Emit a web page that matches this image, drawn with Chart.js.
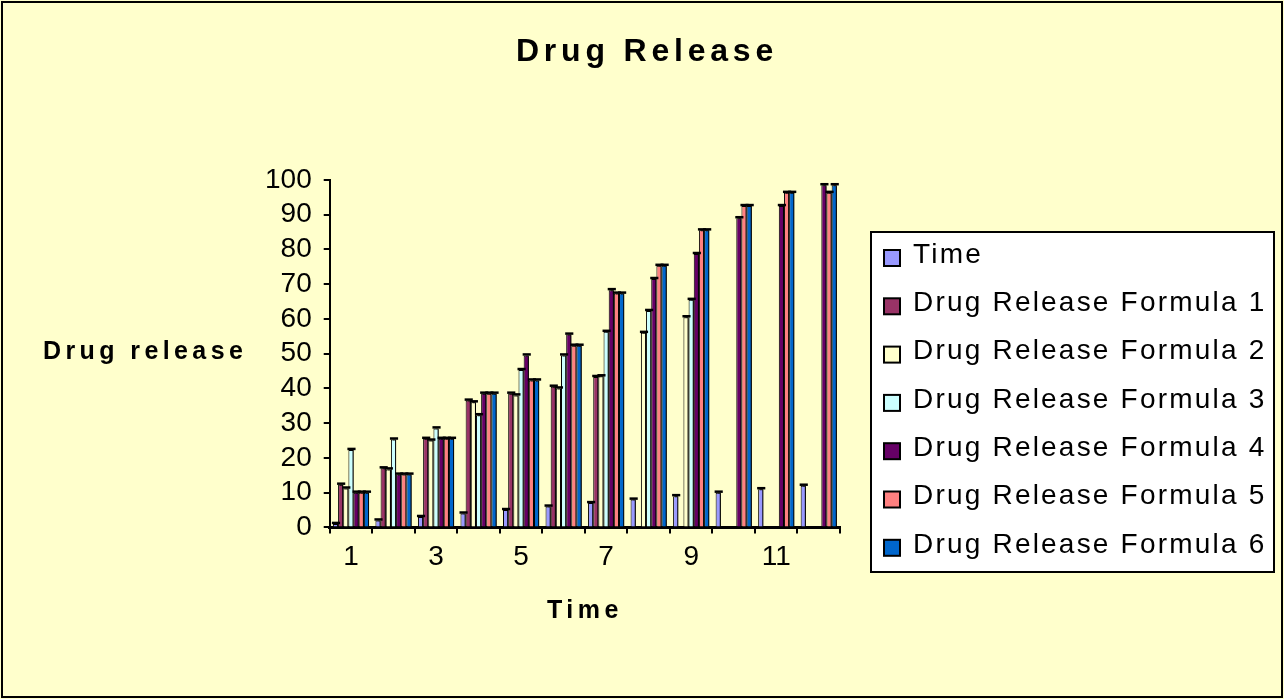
<!DOCTYPE html>
<html>
<head>
<meta charset="utf-8">
<title>Drug Release</title>
<script src="https://cdn.jsdelivr.net/npm/chart.js@4.4.1/dist/chart.umd.min.js"></script>
<style>
  html, body { margin: 0; padding: 0; background: #FFFFCC; }
  canvas { display: block; }
</style>
</head>
<body>
<canvas id="drugChart" width="1284" height="699"></canvas>
<script>
// data
var timeLabels = ['1', '2', '3', '4', '5', '6', '7', '8', '9', '10', '11', '12'];
var shownTicks = ['1', '3', '5', '7', '9', '11'];
var timeValues = [1, 2, 3, 4, 5, 6, 7, 8, 9, 10, 11, 12];
var formula1 = [12.3, 17, 25.5, 36.5, 38.5, 40.5, 43.3, null, null, null, null, null];
var formula2 = [11.2, 16.7, 25, 36, 38, 40, 43.5, 56, 60.5, null, null, null];
var formula3 = [22.3, 25.3, 28.5, 32.3, 45.3, 49.5, 56.3, 62.3, 65.5, null, null, null];
var formula4 = [10, 15.2, 25.5, 38.5, 49.5, 55.5, 68.3, 71.5, 78.7, 89, 92.5, 98.5];
var formula5 = [10, 15.2, 25.5, 38.5, 42.3, 52.3, 67.3, 75.3, 85.5, 92.5, 96.3, 96.3];
var formula6 = [10, 15.2, 25.5, 38.5, 42.3, 52.3, 67.3, 75.3, 85.5, 92.5, 96.3, 98.5];

var seriesNames = ['Time', 'Drug Release Formula 1', 'Drug Release Formula 2', 'Drug Release Formula 3',
                   'Drug Release Formula 4', 'Drug Release Formula 5', 'Drug Release Formula 6'];
var seriesValues = [timeValues, formula1, formula2, formula3, formula4, formula5, formula6];
var seriesColors = ['#9999FF', '#993366', '#FFFFCC', '#CCFFFF', '#660066', '#FF8080', '#0066CC'];

var chartTitle = 'Drug Release';
var yTitle = 'Drug release';
var fontFamily = "'Liberation Sans', Arial, sans-serif";

// canvas letter spacing for the bold axis title
function spaced(obj, fn, sp) {
    if (!obj || obj['_spaced_' + fn]) return;
    var orig = obj[fn];
    obj[fn] = function () {
        var ctx = this.ctx;
        var old = ctx.letterSpacing;
        ctx.letterSpacing = sp;
        orig.apply(this, arguments);
        ctx.letterSpacing = old;
    };
    obj['_spaced_' + fn] = true;
}

var frame = {
    id: 'frame',
    beforeDraw: function (chart) {
        var ctx = chart.ctx;
        ctx.save();
        ctx.fillStyle = '#FFFFCC';
        ctx.fillRect(0, 0, chart.width, chart.height);
        ctx.strokeStyle = '#000';
        ctx.lineWidth = 2;
        ctx.strokeRect(2, 2, chart.width - 4, chart.height - 4);
        ctx.restore();
        spaced(chart.scales.x, 'drawTitle', '4.5px');
    }
};

var barLook = {
    id: 'barLook',
    beforeDatasetsDraw: function (chart) {
        var ctx = chart.ctx;
        ctx.save();
        ctx.shadowColor = '#000';
        ctx.shadowOffsetX = 2;
        ctx.shadowOffsetY = 0;
        ctx.shadowBlur = 0;
    },
    afterDatasetsDraw: function (chart) {
        var ctx = chart.ctx;
        ctx.restore();
        // little caps on top of every bar
        ctx.save();
        ctx.strokeStyle = '#000';
        ctx.lineWidth = 2.5;
        chart.data.datasets.forEach(function (ds, i) {
            chart.getDatasetMeta(i).data.forEach(function (bar, j) {
                if (ds.data[j] == null) return;
                ctx.beginPath();
                ctx.moveTo(bar.x - bar.width / 2 - 1, bar.y - 1);
                ctx.lineTo(bar.x + bar.width / 2 + 2, bar.y - 1);
                ctx.stroke();
            });
        });
        ctx.restore();
    }
};

var sideTexts = {
    id: 'sideTexts',
    afterDraw: function (chart) {
        var ctx = chart.ctx;
        var area = chart.chartArea;
        ctx.save();
        ctx.fillStyle = '#000';

        // chart title, centred on the whole picture
        ctx.font = 'bold 32px ' + fontFamily;
        ctx.letterSpacing = '4.8px';
        ctx.textAlign = 'center';
        ctx.textBaseline = 'middle';
        ctx.fillText(chartTitle, chart.width / 2 + 5, 52);

        // horizontal y axis title
        ctx.font = 'bold 25px ' + fontFamily;
        ctx.letterSpacing = '4.4px';
        ctx.textAlign = 'left';
        ctx.fillText(yTitle, 43, (area.top + area.bottom) / 2 - 2);

        // legend box
        var lx = 871, ly = 232, lw = 403, lh = 340;
        ctx.fillStyle = '#fff';
        ctx.fillRect(lx, ly, lw, lh);
        ctx.strokeStyle = '#000';
        ctx.lineWidth = 2;
        ctx.strokeRect(lx, ly, lw, lh);

        ctx.font = '28px ' + fontFamily;
        ctx.letterSpacing = '2.2px';
        chart.data.datasets.forEach(function (ds, i) {
            var cy = 255 + i * 48.3;
            ctx.fillStyle = ds.backgroundColor;
            ctx.fillRect(884, cy - 5, 16, 16);
            ctx.lineWidth = 2;
            ctx.strokeRect(884, cy - 5, 16, 16);
            ctx.fillStyle = '#000';
            ctx.fillText(ds.label, 913, cy);
        });
        ctx.restore();
    }
};

var ctx = document.getElementById('drugChart').getContext('2d');
var drugChart = new Chart(ctx, {
    type: 'bar',
    data: {
        labels: timeLabels,
        datasets: seriesNames.map(function (name, i) {
            return {
                label: name,
                data: seriesValues[i],
                backgroundColor: seriesColors[i],
                borderColor: '#000',
                borderWidth: 1,
                categoryPercentage: 0.85,
                barPercentage: 1.0
            };
        })
    },
    plugins: [frame, barLook, sideTexts],
    options: {
        responsive: false,
        animation: false,
        layout: {
            padding: { left: 253, right: 444, top: 180, bottom: 73 }
        },
        plugins: {
            legend: { display: false },
            tooltip: { enabled: false },
            title: { display: false }
        },
        scales: {
            x: {
                grid: { drawOnChartArea: false, drawTicks: true, tickLength: 6, color: '#000', lineWidth: 2 },
                border: { display: true, color: '#000', width: 3 },
                ticks: {
                    color: '#000',
                    font: { family: fontFamily, size: 28 },
                    padding: 7,
                    autoSkip: false,
                    maxRotation: 0,
                    callback: function (v, i) {
                        var lab = timeLabels[i];
                        return shownTicks.indexOf(lab) >= 0 ? lab : '';
                    }
                },
                title: {
                    display: true,
                    text: 'Time',
                    color: '#000',
                    font: { family: fontFamily, size: 25, weight: 'bold' },
                    padding: { top: 15, bottom: 0 }
                }
            },
            y: {
                min: 0,
                max: 100,
                grid: { drawOnChartArea: false, drawTicks: true, tickLength: 6, color: '#000', lineWidth: 2 },
                border: { display: true, color: '#000', width: 2 },
                ticks: {
                    stepSize: 10,
                    autoSkip: false,
                    color: '#000',
                    font: { family: fontFamily, size: 28 },
                    padding: 12
                }
            }
        }
    }
});
</script>
</body>
</html>
